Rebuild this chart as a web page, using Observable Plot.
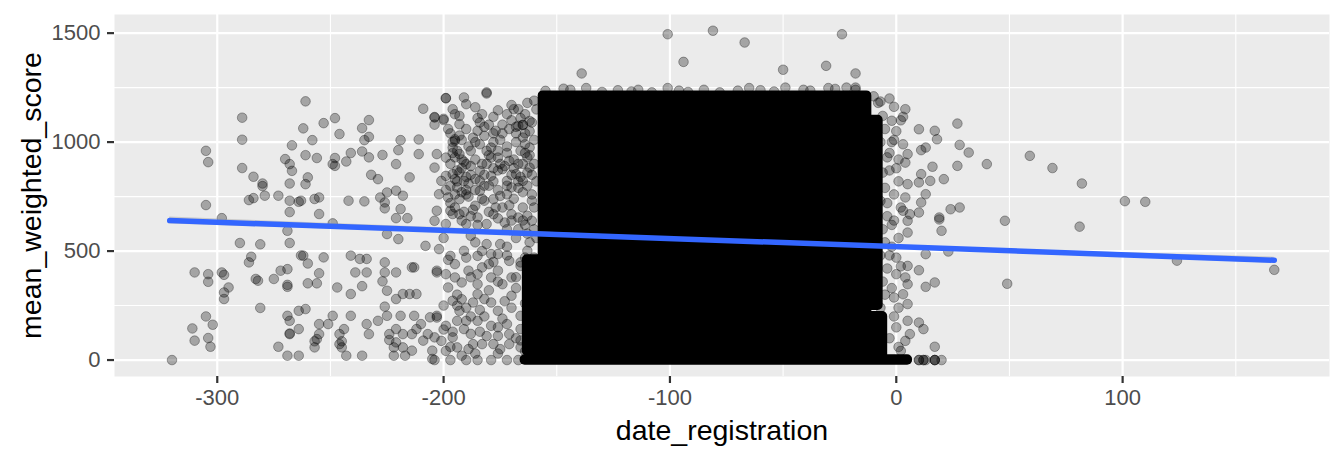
<!DOCTYPE html>
<html>
<head>
<meta charset="utf-8">
<script src="https://cdn.jsdelivr.net/npm/d3@7"></script>
<script src="https://cdn.jsdelivr.net/npm/@observablehq/plot@0.6"></script>
<style>
  html, body { margin: 0; padding: 0; background: #ffffff; }
  #chart svg { display: block; }
  [aria-label="x-axis tick"], [aria-label="y-axis tick"] { stroke: #333333; }
  [aria-label="x-axis tick label"], [aria-label="y-axis tick label"] { fill: #4D4D4D; }
</style>
</head>
<body>
<div id="chart"></div>
<script>
// ---- axis ticks ----
const xMajor = [-300, -200, -100, 0, 100];
const xMinor = [-250, -150, -50, 50, 150];
const yMajor = [0, 500, 1000, 1500];
const yMinor = [250, 750, 1250];

// ---- individual (sparse) points: [date_registration, mean_weighted_score] ----
const leftPts = [
[-320,0],[-311,145],[-310,89],[-310,402],[-305,711],[-305,200],[-305,960],[-304,908],[-304,394],[-304,359],[-304,101],[-303,61],[-302,162],[-298,651],[-298,402],[-297,391],[-297,280],[-297,310],[-295,333],[-290,537],[-289,1112],[-289,1011],[-289,881],[-286,448],[-285,474],[-284,841],[-286,734],[-284,743],[-283,372],[-282,364],[-281,239],[-281,531],[-280,810],[-280,798],[-279,754],[-273,754],[-273,61],[-275,372],[-272,410],[-269,20],[-269,203],[-269,336],[-269,345],[-269,417],[-269,593],[-268,537],[-268,679],[-268,731],[-268,810],[-270,922],[-268,899],[-267,868],[-267,985],[-268,119],[-268,122],[-268,180],[-264,20],[-264,226],[-264,142],[-264,726],[-263,731],[-263,480],[-262,479],[-262,1063],[-261,1187],[-261,940],[-261,807],[-260,838],[-260,443],[-260,352],[-261,234],[-258,1009],[-257,58],[-257,86],[-256,96],[-256,927],[-257,739],[-255,746],[-255,670],[-256,352],[-255,398],[-253,471],[-253,1087],[-255,119],[-255,165],[-251,165],[-249,203],[-249,627],[-249,899],[-248,927],[-248,891],[-248,1110],[-247,333],[-246,1037],[-246,119],[-246,73],[-245,58],[-245,86],[-244,142],[-243,20],[-243,911],[-242,731],[-241,950],[-241,303],[-241,203],[-241,479],[-239,402],[-237,464],[-236,20],[-236,957],[-236,339],[-235,728],[-235,1009],[-236,1064],[-234,402],[-234,464],[-233,930],[-233,1101],[-233,1024],[-233,119],[-234,165],[-232,850],[-229,830],[-229,180],[-227,941],[-227,361],[-226,402],[-228,746],[-226,696],[-226,723],[-225,769],[-225,578],[-226,448],[-225,318],[-226,245],[-225,203],[-224,92],[-224,119],[-222,58],[-222,20],[-221,142],[-221,81],[-221,280],[-221,777],[-221,402],[-220,555],[-221,651],[-221,899],[-220,963],[-219,1009],[-219,693],[-218,754],[-218,303],[-219,203],[-218,119],[-218,58],[-217,20],[-216,651],[-215,838],[-215,303],[-214,425],[-213,425],[-214,43],[-214,119],[-213,203],[-212,303],[-212,142],[-211,945],[-211,1012],[-210,165],[-209,1153],[-208,524],[-209,89],[-207,119],[-206,196],[-205,5],[-205,43],[-204,1115],[-204,1080],[-204,639],[-203,410],[-203,203],[-200,1107],[-199,1202]
];
const midPts = [
[-199,1201],[-191,1205],[-190,1174],[-181,1223],[-196,1151],[-195,1128],[-193,1082],[-200,1101],[-204,1113],[-183,1128],[-184,1090],[-178,1116],[-176,1146],[-172,1128],[-169,1151],[-167,1151],[-164,1128],[-165,1079],[-165,1079],[-162,1097],[-167,1075],[-195,1013],[-195,1006],[-196,975],[-199,929],[-193,945],[-190,899],[-203,945],[-204,883],[-201,822],[-199,845],[-196,853],[-193,861],[-191,822],[-194,792],[-202,761],[-198,746],[-193,738],[-197,685],[-203,685],[-193,669],[-185,1052],[-182,1029],[-177,1052],[-179,975],[-179,929],[-179,845],[-184,868],[-184,822],[-184,776],[-176,929],[-174,876],[-171,914],[-172,822],[-170,792],[-168,853],[-166,960],[-165,1021],[-162,975],[-162,883],[-165,822],[-165,700],[-163,662],[-161,731],[-186,708],[-182,731],[-178,738],[-175,753],[-174,700],[-170,669],[-178,669],[-185,654],[-199,624],[-190,624],[-181,624],[-173,631],[-167,654],[-161,639],[-202,509],[-197,478],[-191,501],[-185,478],[-181,532],[-179,486],[-176,486],[-175,532],[-171,455],[-166,432],[-163,501],[-203,402],[-199,394],[-195,379],[-192,356],[-189,410],[-185,394],[-183,425],[-179,379],[-174,348],[-170,379],[-166,448],[-185,348],[-185,302],[-198,333],[-196,272],[-192,279],[-193,226],[-187,264],[-179,264],[-176,226],[-170,295],[-166,203],[-162,410],[-162,364],[-162,318],[-203,195],[-199,157],[-191,142],[-190,180],[-185,180],[-179,157],[-172,165],[-171,119],[-166,142],[-204,104],[-201,88],[-196,104],[-187,73],[-183,73],[-176,111],[-178,73],[-199,42],[-194,58],[-189,50],[-171,73],[-166,58],[-204,0],[-197,0],[-190,0],[-185,0],[-179,0],[-172,0],[-167,0],
[-196,1000],[-194,960],[-197,900],[-192,880],[-195,830],[-190,780],[-197,720],[-188,960],[-186,1000],[-180,1080],[-175,1010],[-172,980],[-168,1040],[-164,990],[-163,930],[-167,900],[-170,850],[-176,870],[-181,900],[-188,850],[-165,770],[-169,740],[-163,580],[-168,560],[-172,600],[-188,570],[-180,440],[-195,440],[-176,410],[-168,330],[-180,320],[-190,240],[-170,240],[-182,200],[-194,180],[-176,150],[-168,100],[-181,110],[-196,130],[-188,120],
[-197,1040],[-192,1010],[-189,980],[-195,930],[-191,910],[-188,890],[-194,870],[-190,840],[-197,800],[-192,770],[-189,750],[-195,700],[-191,680],[-188,660],
[-185,1110],[-182,1070],[-178,1040],[-174,1080],[-170,1100],[-166,1110],[-162,1050],[-160,1010],[-164,950],[-168,1000],[-172,950],[-175,900],[-178,880],[-182,850],[-186,830],[-169,880],[-166,840],[-161,850],[-163,800],[-167,790],[-172,760],[-176,780],[-180,800],[-183,740],[-187,690],[-177,700],[-171,710],[-161,760],[-160,700],[-165,640],
[-200,560],[-186,540],[-172,520],[-160,470],[-194,300],[-182,280],[-164,260],[-200,250],[-188,200],[-174,190],[-160,150],[-200,140],[-184,130],[-166,90],[-160,40],[-192,20],[-176,30],[-162,20],
[-198,1060],[-193,1030],[-190,1060],[-187,1020],[-184,990],[-181,960],[-178,1000],[-174,1040],[-171,1060],[-168,1070],[-164,1040],[-161,1090],[-159,1150],[-160,1190],[-163,1180],[-170,1170],[-186,1160],[-193,1120],
[-196,950],[-192,920],[-186,920],[-183,900],[-180,940],[-176,960],[-173,890],[-169,920],[-165,900],[-162,940],[-160,900],[-159,820],[-163,860],[-167,820],[-172,800],[-178,820],[-182,800],[-186,780],[-190,760],[-195,760],[-199,780],[-194,820],[-189,810],
[-196,670],[-192,640],[-185,620],[-180,680],[-176,650],[-170,640],[-164,620],[-160,600],[-159,560],[-162,540],[-167,600],
[-198,460],[-190,470],[-183,500],[-178,450],[-172,480],[-164,470],[-159,420],[-188,380],[-176,360],[-168,380],[-160,330],[-194,250],[-184,230],[-173,270],[-160,250],[-197,60],[-186,30],[-175,50],[-164,40]
];
const rightPts = [
[-18,1250],[-7,1186],[-1,1162],[4,1151],[3,1116],[-2,1098],[10,1059],[17,1052],[18,1013],[27,1085],[28,987],[32,952],[11,963],[13,975],[3,990],[5,945],[4,906],[16,887],[27,891],[11,853],[15,822],[21,830],[10,815],[13,761],[11,723],[10,677],[5,807],[4,746],[6,669],[5,639],[5,585],[3,685],[24,692],[28,700],[19,654],[20,593],[19,645],[13,486],[23,498],[5,432],[10,412],[4,379],[5,348],[13,336],[17,356],[3,302],[5,257],[5,180],[10,172],[12,142],[6,119],[4,88],[17,61],[0,394],[-1,287],[2,42],[-7,73],
[-3,1200],[-10,1210],[0,1050],[-2,1000],[-3,950],[0,880],[1,820],[-1,760],[2,700],[-1,640],[1,560],[-2,520],[0,470],[2,430],[-2,330],[1,240],[-1,200],[0,150],[-3,100],[1,60],
[-8,1180],[-6,1120],[-5,1060],[-7,1000],[-4,930],[-6,860],[-5,790],[-7,730],[-4,660],[-6,600],[-5,540],[-7,480],[-4,420],[-6,360],[-5,300],[-7,240],[-3,870],[-2,620],[-4,720],[-3,480],[1,920],[2,1100],[-1,1010],
[10,0],[10,0],[12,0],[12,0],[13,0],[17,0],[17,0],[17,0],[20,0]
];
const farPts = [
[167,414],[124,456],[101,729],[110,726],[82,810],[81,612],[69,881],[59,937],[48,639],[49,350],[40,899]
];
const topPts = [
[-101,1495],[-81,1511],[-67,1457],[-24,1495],[-94,1368],[-139,1315],[-50,1332],[-31,1350],[-18,1315],[-181,1228],
[-155,1235],[-147,1245],[-144,1240],[-137,1248],[-130,1230],[-123,1238],[-117,1232],[-114,1240],[-108,1228],[-101,1248],[-96,1236],[-92,1230],[-85,1240],[-78,1228],[-70,1236],[-65,1248],[-60,1238],[-54,1232],[-49,1250],[-41,1240],[-38,1236],[-30,1248],[-27,1244],[-22,1250],[-18,1240]
];

// ---- saturated (overplotted) regions, bounds of point centres ----
const denseX1 = [-156, -13, -156, -164, -163];
const denseX2 = [-13, -8, -6, 5, -157];
const denseY1 = [8, 250, 15, -1, 40];
const denseY2 = [1212, 1100, 200, 1, 460];

// ---- linear fit ----
const fitX = [-321, 167];
const fitY = [640, 458];
const bandX = [-321, -200, -80, 50, 167];
const bandLo = [624, 585, 546, 494, 444];
const bandHi = [656, 607, 554, 508, 472];

const points = [...leftPts, ...midPts, ...rightPts, ...farPts, ...topPts].map(([x, y]) => ({x, y}));
const dense = denseX1.map((x1, i) => ({x1, x2: denseX2[i], y1: denseY1[i], y2: denseY2[i]}));
const fit = fitX.map((x, i) => ({x, y: fitY[i]}));
const band = bandX.map((x, i) => ({x, lo: bandLo[i], hi: bandHi[i]}));

const chart = Plot.plot({
  width: 1344,
  height: 460,
  marginLeft: 114,
  marginRight: 15,
  marginTop: 14,
  marginBottom: 84,
  style: {fontFamily: "'Liberation Sans', Arial, Helvetica, sans-serif", background: "#ffffff"},
  x: {domain: [-345.4, 191.4]},
  y: {domain: [-75.5, 1585.5]},
  marks: [
    Plot.frame({fill: "#EBEBEB", stroke: null}),
    Plot.ruleX(xMinor, {stroke: "#ffffff", strokeWidth: 1.1}),
    Plot.ruleY(yMinor, {stroke: "#ffffff", strokeWidth: 1.1}),
    Plot.ruleX(xMajor, {stroke: "#ffffff", strokeWidth: 2.2}),
    Plot.ruleY(yMajor, {stroke: "#ffffff", strokeWidth: 2.2}),
    Plot.rect(dense, {x1: "x1", x2: "x2", y1: "y1", y2: "y2", fill: "#000000", stroke: "#000000", strokeWidth: 10, strokeLinejoin: "round"}),
    Plot.dot(points, {x: "x", y: "y", r: 4.8, fill: "#000000", fillOpacity: 0.3, stroke: "#000000", strokeOpacity: 0.32, strokeWidth: 1}),
    Plot.areaY(band, {x: "x", y1: "lo", y2: "hi", fill: "#999999", fillOpacity: 0.4}),
    Plot.line(fit, {x: "x", y: "y", stroke: "#3366FF", strokeWidth: 5.5}),
    Plot.axisX({ticks: xMajor, tickFormat: d => String(d), tickSize: 7, tickPadding: 6, fontSize: 22, strokeWidth: 2.2, label: null}),
    Plot.axisY({ticks: yMajor, tickFormat: d => String(d), tickSize: 7, tickPadding: 7, fontSize: 22, strokeWidth: 2.2, label: null}),
    Plot.text(["date_registration"], {text: d => d, frameAnchor: "bottom", textAnchor: "middle", lineAnchor: "middle", dy: 54, fontSize: 28.5, fill: "#000000"}),
    Plot.text(["mean_weighted_score"], {text: d => d, frameAnchor: "left", textAnchor: "middle", lineAnchor: "middle", dx: -83, rotate: -90, fontSize: 28.5, fill: "#000000"})
  ]
});
document.getElementById("chart").append(chart);
</script>
</body>
</html>
